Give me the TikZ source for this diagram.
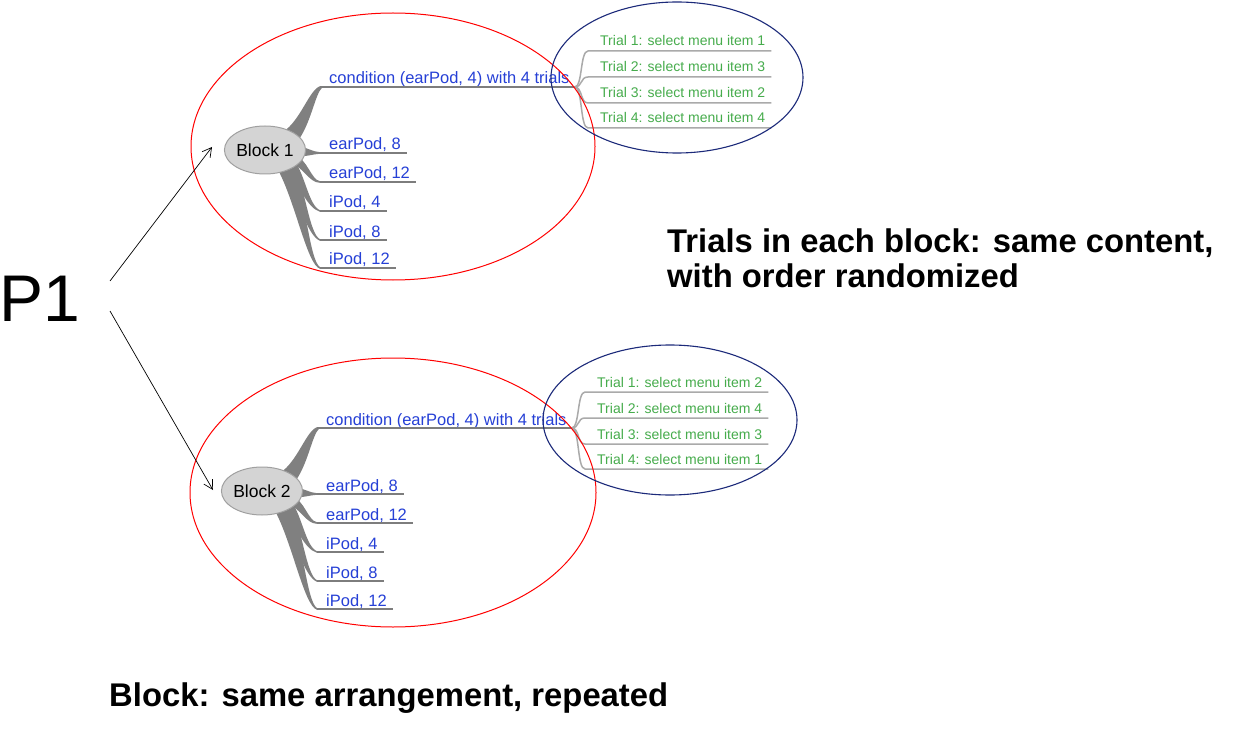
\documentclass[tikz,border=0pt]{standalone}
\usepackage{fontspec}
\setmainfont{Liberation Sans}
\usetikzlibrary{calc,arrows.meta,shapes.geometric}
\definecolor{lblue}{RGB}{38,64,214}
\definecolor{tgreen}{RGB}{70,172,76}
\definecolor{bgray}{RGB}{128,128,128}
\definecolor{ulgray}{RGB}{125,125,125}
\definecolor{tlgray}{RGB}{170,170,170}
\definecolor{navyline}{RGB}{28,42,122}
\definecolor{nodefill}{RGB}{212,212,212}
\definecolor{nodeline}{RGB}{160,160,160}
\tikzset{
  blocknode/.style={ellipse, fill=nodefill, draw=nodeline, line width=1pt,
    minimum width=74pt, minimum height=48pt, inner sep=0pt,
    font=\fontsize{17.5}{20}\selectfont},
  labeltext/.style={anchor=base west, inner sep=0pt, text=lblue,
    font=\fontsize{16.5}{19}\selectfont},
  trialtext/.style={anchor=base west, inner sep=0pt, text=tgreen,
    font=\fontsize{14}{17}\selectfont},
  uline/.style={draw=ulgray, line width=1.3pt},
  tline/.style={draw=tlgray, line width=1.5pt},
  branch/.style={fill=bgray},
  redring/.style={draw=red, line width=1pt},
  bluering/.style={draw=navyline, line width=1.1pt},
  conn/.style={draw=black, line width=0.7pt, -{Straight Barb[length=9pt,width=10pt]}},
  bigtext/.style={anchor=base west, inner sep=0pt, align=left,
    font=\bfseries\fontsize{32.8}{35}\selectfont}
}
% #1 prefix, #2 origin, #3 block label, #4..#7 trial items
\newcommand\mmblock[7]{%
\begin{scope}[shift={#2}]
  % tapered branches
  \fill[branch] (18,-18) .. controls (36,-30) and (44,-60) .. (55,-63.8)
     -- (57,-62.2) .. controls (50,-56) and (46,-26) .. (32,-8) -- cycle;
  \fill[branch] (30,-4) .. controls (42,-3) and (48,2) .. (55,2.2)
     -- (55,3.8) .. controls (48,4) and (42,7) .. (30,6) -- cycle;
  \fill[branch] (30,6) .. controls (42,8) and (46,30) .. (55,31.2)
     -- (55,32.8) .. controls (44,33) and (38,16) .. (26,14) -- cycle;
  \fill[branch] (30,12) .. controls (40,25) and (44,56) .. (55,60.2)
     -- (55,61.8) .. controls (42,58) and (34,35) .. (20,16) -- cycle;
  \fill[branch] (28,14) .. controls (40,35) and (44,84) .. (55,89.2)
     -- (55,90.8) .. controls (42,86) and (32,45) .. (16,18) -- cycle;
  \fill[branch] (26,16) .. controls (40,40) and (44,110) .. (55,117.2)
     -- (55,118.8) .. controls (42,115) and (30,50) .. (12,18) -- cycle;
  % block node
  \node[blocknode] (#1) at (0,0) {#3};
  % labels
  \node[labeltext] (#1c) at (64,-66) {condition (earPod, 4) with 4 trials};
  \node[labeltext] (#1ea) at (64,0) {earPod, 8};
  \node[labeltext] (#1eb) at (64,29) {earPod, 12};
  \node[labeltext] (#1ia) at (64,58) {iPod, 4};
  \node[labeltext] (#1ib) at (64,87) {iPod, 8};
  \node[labeltext] (#1ic) at (64,115) {iPod, 12};
  \coordinate (#1f) at ($(#1c.base east)+(5,3)$);
  \draw[uline] ($(#1c.base west)+(-9,3)$) -- (#1f);
  \foreach \n in {ea,eb,ia,ib,ic}{
    \draw[uline] ($(#1\n.base west)+(-9,3)$) -- ($(#1\n.base east)+(6,3)$);
  }
  % trials
  \node[trialtext] (#1ta) at (335,-104) {Trial 1: select menu item #4};
  \node[trialtext] (#1tb) at (335,-78) {Trial 2: select menu item #5};
  \node[trialtext] (#1tc) at (335,-52) {Trial 3: select menu item #6};
  \node[trialtext] (#1td) at (335,-27) {Trial 4: select menu item #7};
  \foreach \n in {ta,tb,tc,td}{
    \draw[tline] (#1f) .. controls +(8,0) and +(-8,0) .. ($(#1\n.base west)+(-12,5)$)
      -- ($(#1\n.base east)+(6,5)$);
  }
\end{scope}}

\begin{document}
\begin{tikzpicture}[x=1pt,y=-1pt]
  \fill[white] (0,0) rectangle (1233,743);
  \useasboundingbox (0,0) rectangle (1233,743);

  \mmblock{bA}{(265,150)}{Block 1}{1}{3}{2}{4}
  \mmblock{bB}{(262,491)}{Block 2}{2}{4}{3}{1}

  % group rings
  \draw[redring] (393,146.5) ellipse [x radius=202, y radius=133.5];
  \draw[bluering] (677,77.5) ellipse [x radius=126, y radius=75.5];
  \draw[redring] (393,492.5) ellipse [x radius=203, y radius=134.5];
  \draw[bluering] (670,420) ellipse [x radius=127, y radius=75];

  % P1 and arrows
  \node[anchor=base west, inner sep=0pt, font=\fontsize{66}{78}\selectfont] (p1) at (-1,321) {P1};
  \coordinate (a1s) at (110,281);
  \coordinate (a1e) at (212,147);
  \coordinate (a2s) at (110,311);
  \coordinate (a2e) at (213,490);
  \draw[conn] (a1s) -- (a1e);
  \draw[conn] (a2s) -- (a2e);

  % notes
  \node[bigtext] (note1) at (667,287) {Trials in each block: same content,\\with order randomized};
  \node[bigtext] (note2) at (109,706) {Block: same arrangement, repeated};
\end{tikzpicture}
\end{document}
